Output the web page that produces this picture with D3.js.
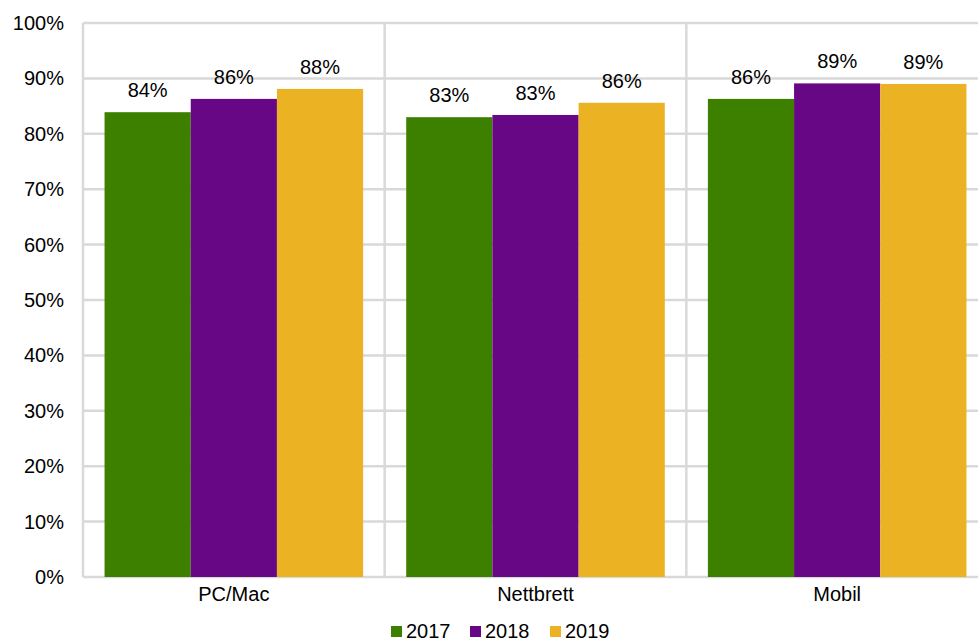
<!DOCTYPE html>
<html>
<head>
<meta charset="utf-8">
<script src="https://cdn.jsdelivr.net/npm/d3@7"></script>
<style>
  html, body { margin: 0; padding: 0; background: #fff; }
  svg { display: block; font-family: "Liberation Sans", Arial, sans-serif; }
</style>
</head>
<body>
<svg id="chart" width="978" height="641"></svg>
<script>
// Device categories and yearly shares
const categories = ["PC/Mac", "Nettbrett", "Mobil"];
const years = ["2017", "2018", "2019"];
const values2017 = [0.839, 0.830, 0.863];
const values2018 = [0.863, 0.834, 0.891];
const values2019 = [0.881, 0.856, 0.890];
const yTicks = [0, 0.1, 0.2, 0.3, 0.4, 0.5, 0.6, 0.7, 0.8, 0.9, 1.0];
const colors = ["#3d8000", "#670785", "#ebb223"];

const series = [values2017, values2018, values2019];

const svg = d3.select("#chart");
const margin = { left: 83, right: -10, top: 23, bottom: 64 };
const W = 978, H = 641;
const FS = 20;

const x0 = d3.scaleBand()
  .domain(categories)
  .range([margin.left, W - margin.right])
  .paddingInner(0)
  .paddingOuter(0);

const x1 = d3.scaleBand()
  .domain(years)
  .range([0, x0.bandwidth()])
  .paddingOuter(0.25)
  .paddingInner(0);

const y = d3.scaleLinear().domain([0, 1]).range([H - margin.bottom, margin.top]);

const grid = "#d9d9d9";
const pct = d3.format(".0%");

// horizontal gridlines
svg.append("g")
  .selectAll("line")
  .data(yTicks)
  .join("line")
  .attr("x1", margin.left)
  .attr("x2", W)
  .attr("y1", d => y(d))
  .attr("y2", d => y(d))
  .attr("stroke", grid)
  .attr("stroke-width", 2.5);

// vertical separators between categories
const seps = [margin.left].concat(categories.slice(1).map(c => x0(c)));
svg.append("g")
  .selectAll("line")
  .data(seps)
  .join("line")
  .attr("x1", d => d)
  .attr("x2", d => d)
  .attr("y1", y(1))
  .attr("y2", y(0))
  .attr("stroke", grid)
  .attr("stroke-width", 2.5);

// y axis labels
const yAxis = d3.axisLeft(y).tickValues(yTicks).tickFormat(pct).tickSize(0).tickPadding(19);
const gy = svg.append("g")
  .attr("transform", `translate(${margin.left},0)`)
  .call(yAxis);
gy.select(".domain").remove();
gy.selectAll("text")
  .attr("font-family", "Liberation Sans, Arial, sans-serif")
  .attr("font-size", FS)
  .attr("fill", "#000");

// bars
const groups = svg.append("g")
  .selectAll("g")
  .data(categories)
  .join("g")
  .attr("transform", d => `translate(${x0(d)},0)`);

groups.selectAll("rect")
  .data((c, i) => years.map((yr, k) => ({ yr, k, v: series[k][i] })))
  .join("rect")
  .attr("x", d => x1(d.yr))
  .attr("width", x1.bandwidth())
  .attr("y", d => y(d.v))
  .attr("height", d => y(0) - y(d.v))
  .attr("fill", d => colors[d.k]);

// value labels
groups.selectAll("text")
  .data((c, i) => years.map((yr, k) => ({ yr, k, v: series[k][i] })))
  .join("text")
  .attr("x", d => x1(d.yr) + x1.bandwidth() / 2)
  .attr("y", d => y(d.v) - 15)
  .attr("text-anchor", "middle")
  .attr("font-size", FS)
  .attr("fill", "#000")
  .text(d => pct(d.v));

// category labels
svg.append("g")
  .selectAll("text")
  .data(categories)
  .join("text")
  .attr("x", d => x0(d) + x0.bandwidth() / 2)
  .attr("y", y(0) + 24)
  .attr("text-anchor", "middle")
  .attr("font-size", FS)
  .attr("fill", "#000")
  .text(d => d);

// legend
const legendX = [391, 470, 550];
const legend = svg.append("g");
years.forEach((yr, k) => {
  legend.append("rect")
    .attr("x", legendX[k])
    .attr("y", 626)
    .attr("width", 11)
    .attr("height", 11)
    .attr("fill", colors[k]);
  legend.append("text")
    .attr("x", legendX[k] + 15)
    .attr("y", 638)
    .attr("font-size", FS)
    .attr("fill", "#000")
    .text(yr);
});
</script>
</body>
</html>
